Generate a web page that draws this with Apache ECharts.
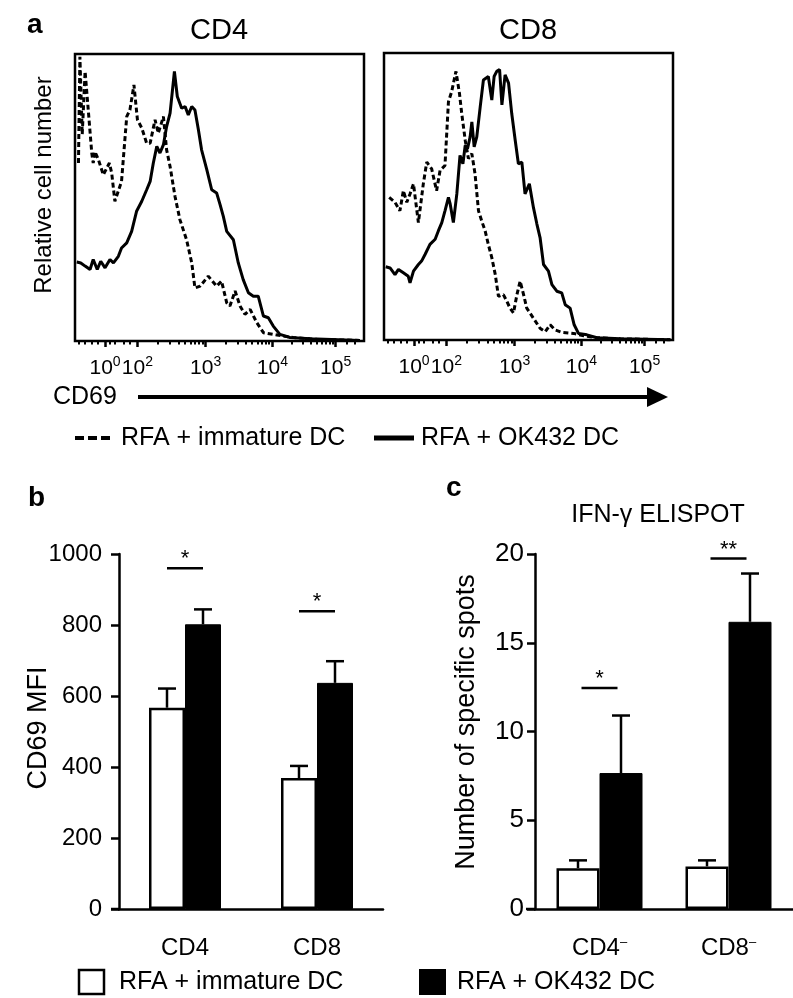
<!DOCTYPE html>
<html>
<head>
<meta charset="utf-8">
<script src="https://cdn.jsdelivr.net/npm/echarts@6/dist/echarts.min.js"></script>
<style>
html,body{margin:0;padding:0;background:#fff;}
#main{width:793px;height:998px;}
</style>
</head>
<body>
<div id="main"></div>
<script>
// ---------- Panel a: histograms (x = display channel 0-100, y = % of max) ----------
const cd4Immature = [[1.2,62],[1.7,99],[2.5,72],[3.5,93.9],[5.8,65.5],[6.3,62.0],[6.9,66.0],[8.1,63.2],[9.8,57.9],[11.9,62.0],[12.7,58.5],[13.8,48.7],[16.1,55.6],[17.9,78.2],[19.0,80.5],[20.4,89.2],[21.6,77.1],[23.1,74.2],[24.8,68.9],[26.0,68.9],[27.7,77.1],[28.8,72.4],[30.6,78.2],[31.7,66.6],[32.9,60.8],[34.6,50.4],[36.3,42.3],[38.6,35.3],[40.4,27.2],[41.5,18.5],[43.3,19.1],[46.1,22.6],[49.0,19.1],[50.7,20.9],[52.5,13.3],[53.6,12.2],[55.4,17.4],[57.1,12.2],[58.8,9.3],[60.6,11.0],[62.9,6.4],[65.2,2.9],[68.6,2.3],[72.1,1.7],[75.5,1.2],[83.6,0.6],[98.6,0.2]];
const cd4OK432 = [[0.6,27.5],[2.0,27.2],[3.5,26.1],[5.2,24.9],[6.3,28.4],[7.7,24.9],[8.9,27.8],[10.4,25.5],[12.1,28.4],[13.3,27.2],[15.0,29.5],[16.1,32.4],[17.9,34.2],[19.6,38.2],[21.3,45.2],[23.1,48.7],[24.8,52.7],[26.0,55.6],[27.1,62.0],[28.3,67.8],[29.4,65.5],[30.6,68.4],[31.7,74.7],[32.9,79.4],[34.4,93.9],[35.4,85.2],[36.9,81.1],[38.1,81.7],[39.2,78.8],[40.4,81.7],[41.5,80.5],[42.7,73.6],[43.8,66.6],[45.6,59.7],[47.3,52.7],[49.0,51.6],[50.2,47.5],[51.3,43.5],[52.5,38.2],[54.8,35.3],[56.5,27.2],[58.2,21.4],[60.0,16.8],[61.7,15.6],[63.4,15.6],[65.2,8.7],[66.9,8.1],[68.6,5.2],[70.9,2.3],[74.4,1.2],[81.3,0.8],[98.6,0.2]];
const cd8Immature = [[1.8,49.7],[3.8,48.0],[5.5,45.0],[6.7,52.0],[7.9,48.0],[9.0,50.9],[10.2,54.4],[11.9,40.9],[13.6,54.4],[14.8,62.0],[16.5,59.6],[18.2,52.0],[19.4,59.1],[21.1,60.8],[22.3,83.0],[23.4,86.5],[24.9,93.6],[26.1,86.0],[26.9,78.9],[28.1,69.6],[29.2,63.2],[30.4,64.9],[31.5,57.9],[32.7,45.0],[33.8,41.5],[35.0,38.0],[36.1,33.3],[37.3,28.7],[38.5,22.8],[39.6,15.2],[41.3,15.8],[42.5,13.5],[43.6,11.1],[44.8,9.4],[46.0,15.8],[47.1,20.5],[48.3,15.8],[49.4,11.1],[51.7,7.6],[54.0,4.1],[55.8,2.9],[57.5,5.3],[59.2,3.5],[61.5,2.7],[65.6,2.3],[69.1,1.5],[73.7,0.8],[81.8,0.4],[99.1,0.1]];
const cd8OK432 = [[0.6,25.5],[2.1,25.1],[3.8,22.8],[5.0,24.6],[6.7,23.4],[8.4,22.2],[9.0,19.9],[10.2,24.0],[11.9,26.3],[13.0,27.5],[14.2,29.8],[15.9,33.3],[17.7,35.1],[18.8,38.0],[20.0,40.9],[21.1,45.0],[22.3,49.7],[22.9,47.4],[24.0,40.9],[25.2,50.9],[26.3,64.3],[27.3,61.4],[28.1,67.8],[28.9,66.7],[29.8,70.8],[30.4,76.0],[31.2,67.3],[32.1,70.8],[33.3,81.3],[34.4,90.6],[36.1,91.8],[37.3,83.6],[38.1,91.8],[39.0,93.6],[40.0,94.2],[40.8,81.9],[41.9,92.4],[43.1,89.5],[44.2,78.9],[45.4,69.6],[46.5,61.4],[47.7,62.0],[48.8,50.9],[50.3,54.4],[51.7,46.2],[52.9,40.4],[54.0,35.7],[55.2,26.3],[56.9,24.0],[58.1,19.3],[59.8,17.0],[61.5,16.4],[62.7,12.3],[64.4,11.1],[65.8,5.3],[67.3,2.3],[70.2,1.8],[73.7,0.8],[81.8,0.4],[99.1,0.1]];

// histogram x-axis ticks (display positions) and labels
const histMajorTicks = [10.4, 21.6, 45.2, 68.3, 90.2];
const histTickExponents = ['0', '2', '3', '4', '5'];
const histMinorTicks = [1.4, 3.5, 5.8, 7.7, 12.1, 13.8, 16.7, 19.0, 28.7, 32.9, 35.8, 38.1, 39.9, 41.5, 42.9, 44.1, 52.2, 56.2, 59.1, 61.3, 63.2, 64.7, 66.1, 67.2, 74.9, 78.7, 81.5, 83.6, 85.3, 86.8, 88.1, 89.2, 94.0, 96.9];

// ---------- Panel b: CD69 MFI ----------
const mfiCategories = ['CD4', 'CD8'];
const mfiImmature = [567, 369];
const mfiImmatureErrTop = [621, 403];
const mfiOK432 = [802, 637];
const mfiOK432ErrTop = [844, 698];
const mfiSigLevel = [960, 839];
const mfiSigText = ['*', '*'];

// ---------- Panel c: IFN-g ELISPOT ----------
const spotCategories = ['CD4', 'CD8'];
const spotImmature = [2.3, 2.4];
const spotImmatureErrTop = [2.74, 2.74];
const spotOK432 = [7.66, 16.18];
const spotOK432ErrTop = [10.9, 18.9];
const spotSigLevel = [12.45, 19.75];
const spotSigText = ['*', '**'];

const FONT = 'Liberation Sans, Arial, Helvetica, sans-serif';
const chart = echarts.init(document.getElementById('main'), null, {renderer: 'canvas'});

const BW_B = 36, BW_C = 43;

function errRender(bw) {
  return function (params, api) {
    const i = api.value(0);
    const sign = api.value(3);
    const top = api.coord([i, api.value(2)]);
    const base = api.coord([i, api.value(1)]);
    const x = top[0] + sign * bw / 2;
    const st = {stroke: '#000', lineWidth: 2.5};
    return {type: 'group', children: [
      {type: 'line', shape: {x1: x, y1: base[1], x2: x, y2: top[1]}, style: st},
      {type: 'line', shape: {x1: x - 9, y1: top[1], x2: x + 9, y2: top[1]}, style: st}
    ]};
  };
}
function sigRender(half) {
  return function (params, api) {
    const i = api.value(0);
    const p = api.coord([i, api.value(1)]);
    const txt = api.value(2);
    return {type: 'group', children: [
      {type: 'line', shape: {x1: p[0] - half, y1: p[1], x2: p[0] + half, y2: p[1]}, style: {stroke: '#000', lineWidth: 2.5}},
      {type: 'text', style: {text: txt, x: p[0], y: p[1] + 2, align: 'center', verticalAlign: 'bottom', font: '22px ' + FONT, fill: '#000'}}
    ]};
  };
}

function histXAxis(gi) {
  return [{
    type: 'value', gridIndex: gi, min: 0, max: 100, position: 'bottom',
    axisLine: {show: false}, splitLine: {show: false},
    axisTick: {show: true, inside: false, length: 6, customValues: histMajorTicks, lineStyle: {color: '#000', width: 2.5}},
    axisLabel: {
      show: true, customValues: histMajorTicks, margin: 14, color: '#000',
      formatter: function (v) {
        let k = 0, best = 1e9;
        histMajorTicks.forEach(function (t, j) { if (Math.abs(t - v) < best) { best = Math.abs(t - v); k = j; } });
        return '{b|10}{s|' + histTickExponents[k] + '}';
      },
      rich: {b: {fontSize: 21, fontFamily: FONT, color: '#000'}, s: {fontSize: 14, fontFamily: FONT, color: '#000', verticalAlign: 'bottom', padding: [0, 0, 12, 0]}}
    }
  }, {
    type: 'value', gridIndex: gi, min: 0, max: 100, position: 'bottom',
    axisLine: {show: false}, splitLine: {show: false}, axisLabel: {show: false},
    axisTick: {show: true, inside: false, length: 3.5, customValues: histMinorTicks, lineStyle: {color: '#000', width: 2}}
  }];
}

const axisStyle = {color: '#000', width: 2.5};

const option = {
  animation: false,
  backgroundColor: '#fff',
  grid: [
    {left: 75, top: 54, width: 289, height: 287, show: true, borderColor: '#000', borderWidth: 2.5, backgroundColor: 'transparent'},
    {left: 384, top: 53, width: 289, height: 287, show: true, borderColor: '#000', borderWidth: 2.5, backgroundColor: 'transparent'},
    {left: 119, top: 554, width: 264, height: 355},
    {left: 535, top: 554, width: 258, height: 355}
  ],
  xAxis: [].concat(histXAxis(0), histXAxis(1), [
    {type: 'category', gridIndex: 2, data: mfiCategories,
      axisLine: {lineStyle: axisStyle}, axisTick: {alignWithLabel: true, length: 10, lineStyle: axisStyle},
      axisLabel: {color: '#000', fontSize: 24, fontFamily: FONT, margin: 27}},
    {type: 'category', gridIndex: 3, data: spotCategories,
      axisLine: {lineStyle: axisStyle}, axisTick: {alignWithLabel: true, length: 10, lineStyle: axisStyle},
      axisLabel: {color: '#000', margin: 27, formatter: function (v) { return '{a|' + v + '}{s|\u2013}'; },
        rich: {a: {fontSize: 24, fontFamily: FONT, color: '#000'}, s: {fontSize: 13, fontFamily: FONT, color: '#000', verticalAlign: 'bottom', padding: [0, 0, 12, 0]}}}}
  ]),
  yAxis: [
    {type: 'value', gridIndex: 0, min: 0, max: 100, show: false},
    {type: 'value', gridIndex: 1, min: 0, max: 100, show: false},
    {type: 'value', gridIndex: 2, min: 0, max: 1000, interval: 200, splitLine: {show: false},
      axisLine: {show: true, lineStyle: axisStyle}, axisTick: {show: true, length: 8, lineStyle: axisStyle},
      axisLabel: {color: '#000', fontSize: 24, fontFamily: FONT, margin: 17, formatter: function (v) { return String(v); }}},
    {type: 'value', gridIndex: 3, min: 0, max: 20, interval: 5, splitLine: {show: false},
      axisLine: {show: true, lineStyle: axisStyle}, axisTick: {show: true, length: 8, lineStyle: axisStyle},
      axisLabel: {color: '#000', fontSize: 26, fontFamily: FONT, margin: 11}}
  ],
  series: [
    {type: 'line', xAxisIndex: 0, yAxisIndex: 0, data: cd4Immature, showSymbol: false, symbol: 'none', lineStyle: {color: '#000', width: 3, type: [5, 3]}},
    {type: 'line', xAxisIndex: 0, yAxisIndex: 0, data: cd4OK432, showSymbol: false, symbol: 'none', lineStyle: {color: '#000', width: 3}},
    {type: 'line', xAxisIndex: 2, yAxisIndex: 1, data: cd8Immature, showSymbol: false, symbol: 'none', lineStyle: {color: '#000', width: 3, type: [5, 3]}},
    {type: 'line', xAxisIndex: 2, yAxisIndex: 1, data: cd8OK432, showSymbol: false, symbol: 'none', lineStyle: {color: '#000', width: 3}},

    {type: 'bar', xAxisIndex: 4, yAxisIndex: 2, data: mfiImmature, barWidth: BW_B, barGap: '0%', itemStyle: {color: '#fff', borderColor: '#000', borderWidth: 2.5}},
    {type: 'bar', xAxisIndex: 4, yAxisIndex: 2, data: mfiOK432, barWidth: BW_B, barGap: '0%', itemStyle: {color: '#000', borderColor: '#000', borderWidth: 1}},
    {type: 'custom', xAxisIndex: 4, yAxisIndex: 2, renderItem: errRender(BW_B), z: 1,
      data: mfiImmature.map(function (v, i) { return [i, v, mfiImmatureErrTop[i], -1]; }).concat(mfiOK432.map(function (v, i) { return [i, v, mfiOK432ErrTop[i], 1]; }))},
    {type: 'custom', xAxisIndex: 4, yAxisIndex: 2, renderItem: sigRender(18),
      data: mfiSigLevel.map(function (v, i) { return [i, v, mfiSigText[i]]; })},

    {type: 'bar', xAxisIndex: 5, yAxisIndex: 3, data: spotImmature, barWidth: BW_C, barGap: '0%', itemStyle: {color: '#fff', borderColor: '#000', borderWidth: 2.5}},
    {type: 'bar', xAxisIndex: 5, yAxisIndex: 3, data: spotOK432, barWidth: BW_C, barGap: '0%', itemStyle: {color: '#000', borderColor: '#000', borderWidth: 1}},
    {type: 'custom', xAxisIndex: 5, yAxisIndex: 3, renderItem: errRender(BW_C), z: 1,
      data: spotImmature.map(function (v, i) { return [i, v, spotImmatureErrTop[i], -1]; }).concat(spotOK432.map(function (v, i) { return [i, v, spotOK432ErrTop[i], 1]; }))},
    {type: 'custom', xAxisIndex: 5, yAxisIndex: 3, renderItem: sigRender(18),
      data: spotSigLevel.map(function (v, i) { return [i, v, spotSigText[i]]; })}
  ],
  graphic: [
    {type: 'text', left: 27, top: 11, style: {text: 'a', font: 'bold 28px ' + FONT, fill: '#000'}},
    {type: 'text', x: 219, y: 31, style: {text: 'CD4', font: '29px ' + FONT, fill: '#000', align: 'center', verticalAlign: 'middle'}},
    {type: 'text', x: 528, y: 31, style: {text: 'CD8', font: '29px ' + FONT, fill: '#000', align: 'center', verticalAlign: 'middle'}},
    {type: 'text', x: 44, y: 185, rotation: Math.PI / 2, style: {text: 'Relative cell number', font: '24px ' + FONT, fill: '#000', align: 'center', verticalAlign: 'middle'}},
    {type: 'text', x: 53, y: 397, style: {text: 'CD69', font: '25px ' + FONT, fill: '#000', align: 'left', verticalAlign: 'middle'}},
    {type: 'line', shape: {x1: 138, y1: 397, x2: 655, y2: 397}, style: {stroke: '#000', lineWidth: 4}},
    {type: 'polygon', shape: {points: [[668, 397], [647, 387], [647, 407]]}, style: {fill: '#000'}},
    {type: 'line', shape: {x1: 75, y1: 438, x2: 111, y2: 438}, style: {stroke: '#000', lineWidth: 4, lineDash: [9, 4]}},
    {type: 'text', x: 121, y: 438, style: {text: 'RFA + immature DC', font: '25px ' + FONT, fill: '#000', align: 'left', verticalAlign: 'middle'}},
    {type: 'line', shape: {x1: 374, y1: 438, x2: 414, y2: 438}, style: {stroke: '#000', lineWidth: 5}},
    {type: 'text', x: 421, y: 438, style: {text: 'RFA + OK432 DC', font: '25px ' + FONT, fill: '#000', align: 'left', verticalAlign: 'middle'}},

    {type: 'text', left: 28, top: 484, style: {text: 'b', font: 'bold 28px ' + FONT, fill: '#000'}},
    {type: 'text', left: 446, top: 474, style: {text: 'c', font: 'bold 28px ' + FONT, fill: '#000'}},
    {type: 'text', x: 39, y: 728, rotation: Math.PI / 2, style: {text: 'CD69 MFI', font: '27px ' + FONT, fill: '#000', align: 'center', verticalAlign: 'middle'}},
    {type: 'text', x: 467, y: 722, rotation: Math.PI / 2, style: {text: 'Number of specific spots', font: '27px ' + FONT, fill: '#000', align: 'center', verticalAlign: 'middle'}},
    {type: 'text', x: 658, y: 515, style: {text: 'IFN-\u03b3 ELISPOT', font: '25px ' + FONT, fill: '#000', align: 'center', verticalAlign: 'middle'}},
    {type: 'line', shape: {x1: 111, y1: 909, x2: 120, y2: 909}, style: {stroke: '#000', lineWidth: 2.5}},
    {type: 'line', shape: {x1: 526, y1: 909, x2: 536, y2: 909}, style: {stroke: '#000', lineWidth: 2.5}},

    {type: 'rect', shape: {x: 79, y: 970, width: 25, height: 24}, style: {fill: '#fff', stroke: '#000', lineWidth: 2.5}},
    {type: 'text', x: 119, y: 982, style: {text: 'RFA + immature DC', font: '25px ' + FONT, fill: '#000', align: 'left', verticalAlign: 'middle'}},
    {type: 'rect', shape: {x: 419, y: 969, width: 27, height: 26}, style: {fill: '#000'}},
    {type: 'text', x: 457, y: 982, style: {text: 'RFA + OK432 DC', font: '25px ' + FONT, fill: '#000', align: 'left', verticalAlign: 'middle'}}
  ]
};
chart.setOption(option);
</script>
</body>
</html>
